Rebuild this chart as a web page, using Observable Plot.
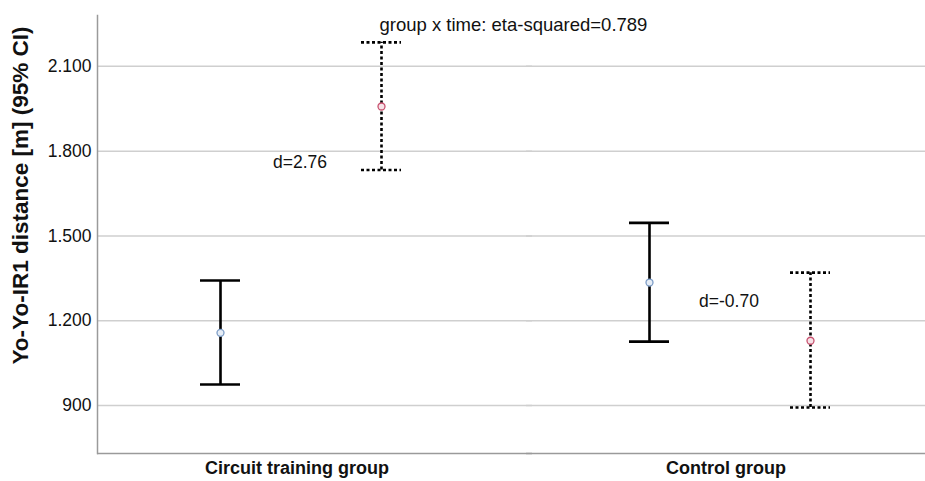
<!DOCTYPE html>
<html>
<head>
<meta charset="utf-8">
<script src="https://cdn.jsdelivr.net/npm/d3@7"></script>
<script src="https://cdn.jsdelivr.net/npm/@observablehq/plot@0.6"></script>
<style>
  html, body { margin: 0; padding: 0; background: #fff; }
  #chart { width: 925px; height: 481px; }
</style>
</head>
<body>
<div id="chart"></div>
<script>
// ---- Data ----
const groups = ["Circuit training group", "Control group"];
const times = ["Pre", "Post"];
const means = [[1157, 1958], [1335, 1129]];
const lower = [[974, 1733], [1126, 893]];
const upper = [[1342, 2185], [1546, 1370]];
const yTicks = [900, 1200, 1500, 1800, 2100];
const yDomain = [730, 2280];
const yLabel = "Yo-Yo-IR1 distance [m] (95% CI)";
const effectLabels = ["d=2.76", "d=-0.70"];
const effectY = [1760, 1270];
const interactionLabel = "group x time: eta-squared=0.789";

// ---- Build tables ----
const rows = groups.flatMap((g, i) => times.map((t, j) => ({
  group: g, time: t, mean: means[i][j], lo: lower[i][j], hi: upper[i][j]
})));
const preRows = rows.filter(d => d.time === times[0]);
const postRows = rows.filter(d => d.time === times[1]);
const effects = groups.map((g, i) => ({group: g, text: effectLabels[i], y: effectY[i]}));
const interaction = [{group: groups[0], time: times[1], text: interactionLabel}];

const fmt = d3.formatLocale({decimal: ",", thousands: ".", grouping: [3], currency: ["", ""]}).format(",");

const font = "'Liberation Sans', Arial, sans-serif";
const dash = "3,2.5";

const chart = Plot.plot({
  width: 925,
  height: 481,
  marginLeft: 97,
  marginRight: 0,
  marginTop: 15,
  marginBottom: 28,
  style: {fontFamily: font, background: "#fff", color: "#111"},
  fx: {domain: groups, paddingInner: 0.07, paddingOuter: 0, label: null},
  x: {domain: times, type: "band", paddingInner: 0.7516, paddingOuter: 0.608, align: 0.52, axis: null},
  y: {domain: yDomain},
  marks: [
    // gridlines
    Plot.ruleY(yTicks, {stroke: "#cfcfcf", strokeWidth: 1.5, insetRight: -36}),
    // bottom axis line
    Plot.ruleY([yDomain[0]], {stroke: "#9a9a9a", strokeWidth: 1.5, insetRight: -36}),
    // left axis line
    Plot.frame({anchor: "left", facetAnchor: "left", stroke: "#9a9a9a", strokeWidth: 1.5}),
    Plot.axisY(yTicks, {tickSize: 0, tickPadding: 6, tickFormat: fmt, fontSize: 17.5, label: null}),
    Plot.axisFx({anchor: "bottom", tickSize: 0, tickPadding: 8, fontSize: 18, fontWeight: "bold", label: null}),
    // y label
    Plot.text([yLabel], {frameAnchor: "left", facetAnchor: "left", textAnchor: "middle", rotate: -90,
      dx: -77, dy: -39, fontSize: 22.5, fontWeight: "bold", fill: "#111"}),
    // pre error bars (solid)
    Plot.ruleX(preRows, {fx: "group", x: "time", y1: "lo", y2: "hi", stroke: "#000", strokeWidth: 2.6}),
    Plot.tickY(preRows, {fx: "group", x: "time", y: "lo", stroke: "#000", strokeWidth: 2.6}),
    Plot.tickY(preRows, {fx: "group", x: "time", y: "hi", stroke: "#000", strokeWidth: 2.6}),
    // post error bars (dotted)
    Plot.ruleX(postRows, {fx: "group", x: "time", y1: "lo", y2: "hi", stroke: "#000", strokeWidth: 2.6, strokeDasharray: dash}),
    Plot.tickY(postRows, {fx: "group", x: "time", y: "lo", stroke: "#000", strokeWidth: 2.6, strokeDasharray: dash}),
    Plot.tickY(postRows, {fx: "group", x: "time", y: "hi", stroke: "#000", strokeWidth: 2.6, strokeDasharray: dash}),
    // means
    Plot.dot(preRows, {fx: "group", x: "time", y: "mean", r: 3.5, stroke: "#7c9cc6", strokeWidth: 1.3, fill: "#e6edf6"}),
    Plot.dot(postRows, {fx: "group", x: "time", y: "mean", r: 3.5, stroke: "#c8506e", strokeWidth: 1.3, fill: "#f6e2e7"}),
    // effect sizes
    Plot.text(effects, {fx: "group", y: "y", text: "text", dx: 3, fontSize: 17.5, fill: "#111"}),
    // interaction
    Plot.text(interaction, {fx: "group", x: "time", text: "text", frameAnchor: "top", textAnchor: "start",
      lineAnchor: "top", dx: -2, dy: 2, fontSize: 18.5, fill: "#111"})
  ]
});
document.getElementById("chart").appendChild(chart);
</script>
</body>
</html>
